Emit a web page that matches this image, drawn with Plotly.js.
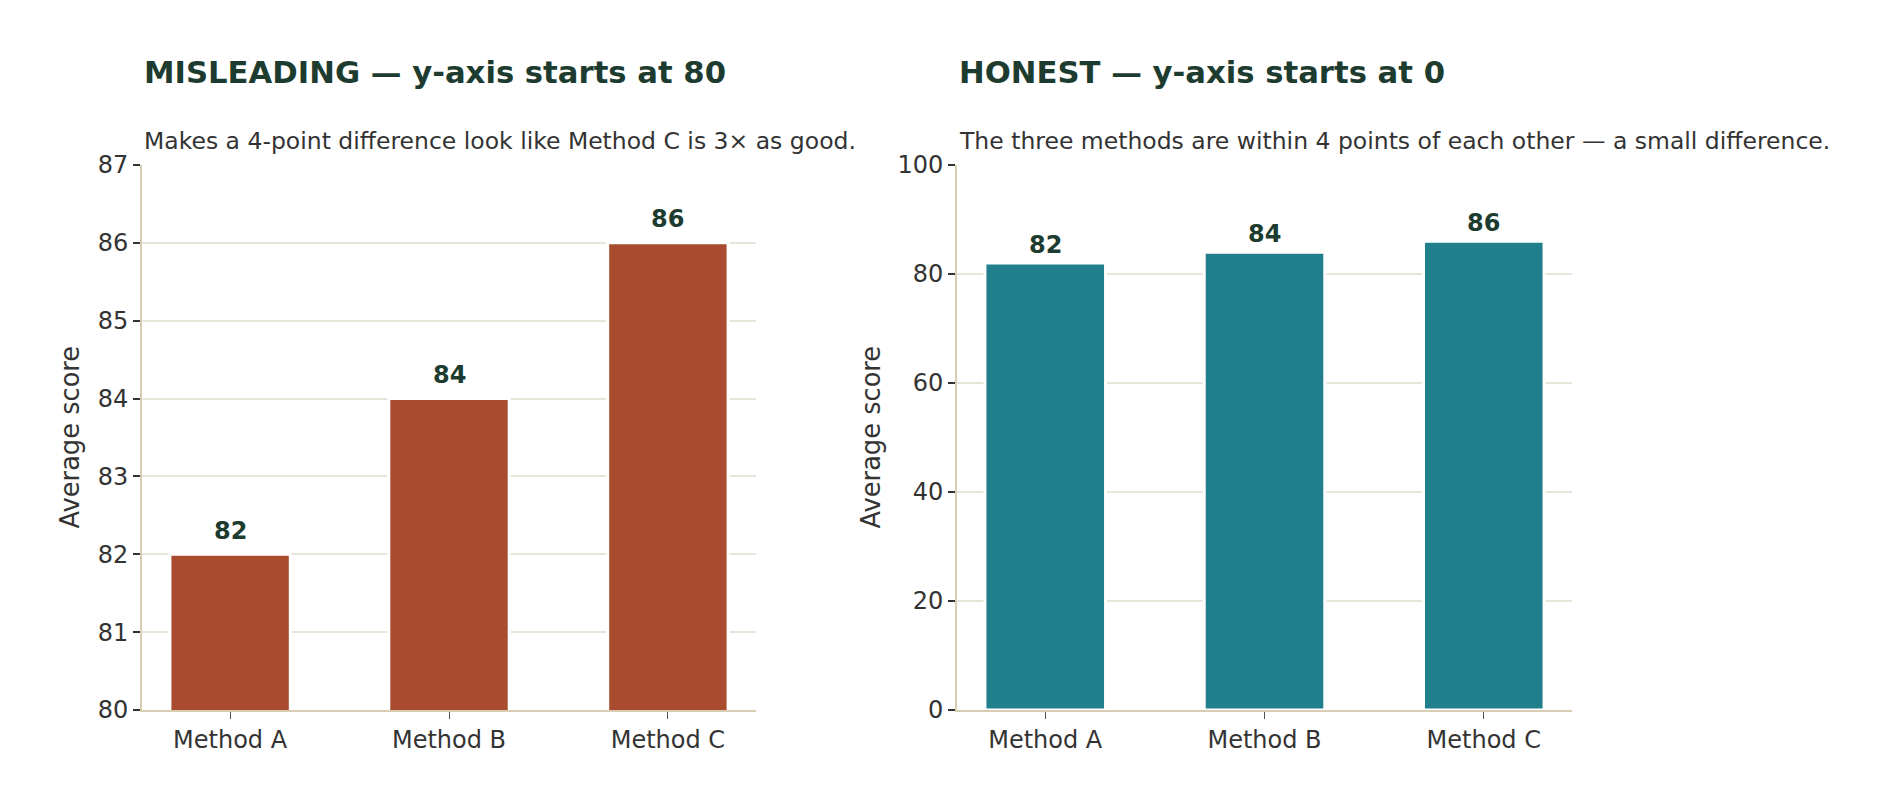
<!DOCTYPE html>
<html>
<head>
<meta charset="utf-8">
<script src="https://cdn.plot.ly/plotly-3.0.1.min.js"></script>
<style>
  html, body { margin: 0; padding: 0; background: #fff; }
  #chart { width: 1893px; height: 810px; }
</style>
</head>
<body>
<div id="chart"></div>
<script>
'use strict';
/* Methods and their average scores */
var methods = ['Method A', 'Method B', 'Method C'];
var scores = [82, 84, 86];

/* Panel text */
var left_title = 'MISLEADING — y-axis starts at 80';
var left_sub = 'Makes a 4-point difference look like Method C is 3× as good.';
var right_title = 'HONEST — y-axis starts at 0';
var right_sub = 'The three methods are within 4 points of each other — a small difference.';
var y_label = 'Average score';

/* y tick values for each panel */
var left_ticks = [80, 81, 82, 83, 84, 85, 86, 87];
var right_ticks = [0, 20, 40, 60, 80, 100];

var W = 1893, H = 810;
var px = function (v) { return v / W; };
var py = function (v) { return 1 - v / H; };

var dark = '#1d3c2f';
var ink = '#333333';
var spine = '#d8cdb3';
var grid = '#e8e4d7';
var font = 'DejaVu Sans, sans-serif';

var left_bar = {
  x: methods,
  y: scores,
  type: 'bar',
  width: 0.55,
  xaxis: 'x',
  yaxis: 'y',
  marker: { color: '#a84b2f', line: { color: '#ffffff', width: 3 } },
  hoverinfo: 'x+y'
};

var right_bar = {
  x: methods,
  y: scores,
  type: 'bar',
  width: 0.55,
  xaxis: 'x2',
  yaxis: 'y2',
  marker: { color: '#217f8c', line: { color: '#ffffff', width: 3 } },
  hoverinfo: 'x+y'
};

function xaxis(domain, anchor) {
  return {
    domain: domain,
    anchor: anchor,
    type: 'category',
    range: [-0.4025, 2.4025],
    showgrid: false,
    zeroline: false,
    showline: true,
    linecolor: spine,
    linewidth: 2,
    ticks: 'outside',
    ticklen: 7,
    tickwidth: 1,
    tickcolor: '#555',
    tickfont: { family: font, size: 24, color: ink },
    fixedrange: true
  };
}

function yaxis(domain, anchor, range, ticks) {
  return {
    domain: domain,
    anchor: anchor,
    range: range,
    tickvals: ticks,
    showgrid: true,
    gridcolor: grid,
    gridwidth: 2,
    zeroline: false,
    showline: true,
    linecolor: spine,
    linewidth: 2,
    ticks: 'outside',
    ticklen: 7,
    tickwidth: 2,
    tickcolor: ink,
    tickfont: { family: font, size: 24, color: ink },
    fixedrange: true
  };
}

var ydom = [py(710), py(165)];

var annotations = [
  { text: left_title, xref: 'paper', yref: 'paper', x: px(142), y: py(72), xanchor: 'left', yanchor: 'middle',
    showarrow: false, font: { family: font, size: 30.7, color: dark, weight: 'bold' } },
  { text: right_title, xref: 'paper', yref: 'paper', x: px(957), y: py(72), xanchor: 'left', yanchor: 'middle',
    showarrow: false, font: { family: font, size: 30.7, color: dark, weight: 'bold' } },
  { text: left_sub, xref: 'paper', yref: 'paper', x: px(142), y: py(141), xanchor: 'left', yanchor: 'middle',
    showarrow: false, font: { family: font, size: 23.5, color: ink } },
  { text: right_sub, xref: 'paper', yref: 'paper', x: px(957), y: py(141), xanchor: 'left', yanchor: 'middle',
    showarrow: false, font: { family: font, size: 23.5, color: ink } },
  { text: y_label, xref: 'paper', yref: 'paper', x: px(70), y: py(437.5), xanchor: 'center', yanchor: 'middle',
    textangle: -90, showarrow: false, font: { family: font, size: 25.7, color: ink } },
  { text: y_label, xref: 'paper', yref: 'paper', x: px(871), y: py(437.5), xanchor: 'center', yanchor: 'middle',
    textangle: -90, showarrow: false, font: { family: font, size: 25.7, color: ink } }
];

// value labels above bars, one per panel (the offset differs a little between panels)
var label_shift = { '': 23.5, '2': 18.3 };
methods.forEach(function (m, i) {
  ['', '2'].forEach(function (s) {
    annotations.push({
      x: m, y: scores[i], xref: 'x' + s, yref: 'y' + s,
      text: String(scores[i]), showarrow: false,
      xanchor: 'center', yanchor: 'middle', yshift: label_shift[s],
      font: { family: font, size: 24, color: dark, weight: 'bold' }
    });
  });
});

var layout = {
  width: W,
  height: H,
  margin: { l: 0, r: 0, t: 0, b: 0 },
  paper_bgcolor: '#ffffff',
  plot_bgcolor: '#ffffff',
  showlegend: false,
  xaxis: xaxis([px(142), px(756)], 'y'),
  yaxis: yaxis(ydom, 'x', [80, 87], left_ticks),
  xaxis2: xaxis([px(957), px(1572)], 'y2'),
  yaxis2: yaxis(ydom, 'x2', [0, 100], right_ticks),
  annotations: annotations
};

Plotly.newPlot('chart', [left_bar, right_bar], layout, { displayModeBar: false, staticPlot: true });
</script>
</body>
</html>
